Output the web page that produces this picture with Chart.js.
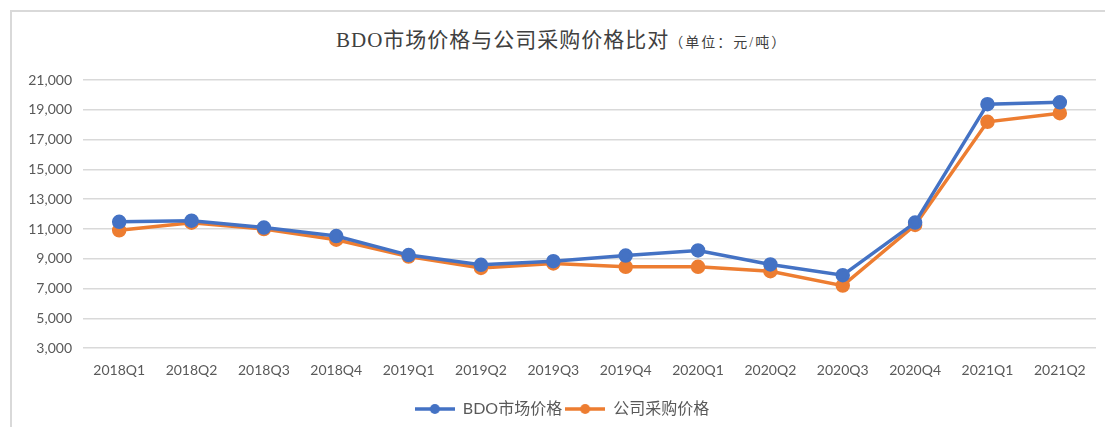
<!DOCTYPE html>
<html>
<head>
<meta charset="utf-8">
<script src="https://cdn.jsdelivr.net/npm/chart.js@4"></script>
<style>
    html, body { margin: 0; padding: 0; background: #fff; overflow: hidden; }
    #wrap { position: relative; width: 1105px; height: 427px; overflow: hidden; }
    #frame { position: absolute; left: 10px; top: 10px; width: 1200px; height: 500px; border: 2px solid #d9d9d9; box-sizing: border-box; }
    #title { position: absolute; left: 336px; top: 23px; white-space: nowrap; color: #404040;
             font-family: "Liberation Serif", "Noto Sans CJK SC", serif; }
    #title .main { font-size: 21px; letter-spacing: 1px; }
    #title .unit { font-size: 14px; letter-spacing: 2px; }
    canvas { position: absolute; left: 0; top: 0; }
</style>
</head>
<body>
<div id="wrap">
    <div id="frame"></div>
    <div id="title"><span class="main">BDO市场价格与公司采购价格比对</span><span class="unit">（单位：元/吨）</span></div>
    <canvas id="chart" width="1105" height="427"></canvas>
</div>
<script>
const quarters = ['2018Q1', '2018Q2', '2018Q3', '2018Q4', '2019Q1', '2019Q2', '2019Q3',
    '2019Q4', '2020Q1', '2020Q2', '2020Q3', '2020Q4', '2021Q1', '2021Q2'];
const marketPrice = [11480, 11560, 11100, 10530, 9250, 8600, 8840, 9220, 9560, 8620, 7900, 11430, 19380, 19500];
const purchasePrice = [10910, 11420, 11000, 10280, 9150, 8390, 8690, 8460, 8460, 8170, 7200, 11270, 18190, 18770];
const yMin = 3000, yMax = 21000, yStep = 2000;

const BLUE = '#4472C4';
const ORANGE = '#ED7D31';
const TICK = '#595959';
const FONT = 'Lato, "Noto Sans CJK SC", sans-serif';

// legend swatch: line with a dot in the middle
function swatch(color) {
    const c = document.createElement('canvas');
    c.width = 40;
    c.height = 12;
    const ctx = c.getContext('2d');
    ctx.strokeStyle = color;
    ctx.lineWidth = 3.5;
    ctx.beginPath();
    ctx.moveTo(0, 6);
    ctx.lineTo(40, 6);
    ctx.stroke();
    ctx.fillStyle = color;
    ctx.beginPath();
    ctx.arc(20, 6, 5, 0, Math.PI * 2);
    ctx.fill();
    return c;
}
const swatches = [swatch(BLUE), swatch(ORANGE)];

function series(label, data, color) {
    return {
        label: label,
        data: data,
        borderColor: color,
        backgroundColor: color,
        pointBackgroundColor: color,
        pointBorderColor: color,
        borderWidth: 3.5,
        pointRadius: 5.5,
        pointHoverRadius: 5.5,
        tension: 0
    };
}

new Chart(document.getElementById('chart'), {
    type: 'line',
    data: {
        labels: quarters,
        datasets: [
            series('BDO市场价格', marketPrice, BLUE),
            series('公司采购价格', purchasePrice, ORANGE)
        ]
    },
    options: {
        responsive: false,
        animation: false,
        layout: {padding: {top: 80, left: 27, right: 8, bottom: 0}},
        scales: {
            x: {
                offset: true,
                grid: {display: false},
                border: {display: false},
                ticks: {color: TICK, font: {family: FONT, size: 14}, padding: 6, maxRotation: 0, autoSkip: false}
            },
            y: {
                min: yMin,
                max: yMax,
                afterFit: scale => { scale.width = 56; },
                grid: {color: '#d9d9d9', lineWidth: 1.5, drawTicks: false},
                border: {display: false},
                ticks: {
                    stepSize: yStep,
                    color: TICK,
                    padding: 11,
                    font: {family: FONT, size: 14},
                    callback: v => v.toLocaleString('en-US')
                }
            }
        },
        plugins: {
            tooltip: {enabled: false},
            legend: {
                position: 'bottom',
                // empty title only used as a spacer above the items
                title: {display: true, text: ' ', font: {size: 1, lineHeight: 1}, padding: {top: 12, bottom: 0}},
                labels: {
                    usePointStyle: true,
                    pointStyleWidth: 40,
                    boxHeight: 12,
                    padding: 3,
                    color: TICK,
                    font: {family: FONT, size: 16},
                    generateLabels: chart => Chart.defaults.plugins.legend.labels.generateLabels(chart)
                        .map(l => Object.assign(l, {pointStyle: swatches[l.datasetIndex]}))
                }
            }
        }
    }
});
</script>
</body>
</html>
